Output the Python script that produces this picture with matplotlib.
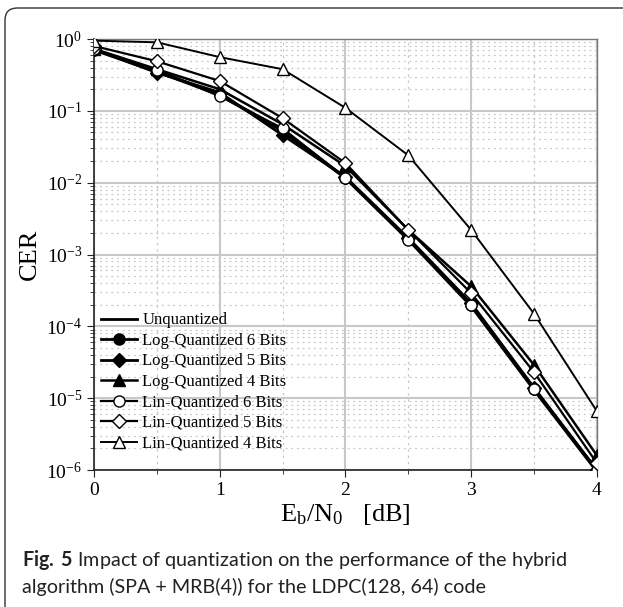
import matplotlib
matplotlib.use('Agg')
import matplotlib.pyplot as plt
from matplotlib.patches import FancyBboxPatch
from matplotlib.ticker import LogLocator, MultipleLocator

plt.rcParams['font.family'] = 'Liberation Serif'
plt.rcParams['mathtext.fontset'] = 'custom'
plt.rcParams['mathtext.rm'] = 'Liberation Serif'
plt.rcParams['mathtext.it'] = 'Liberation Serif:italic'
plt.rcParams['mathtext.bf'] = 'Lato:bold'  # only used for the "Fig. 5" tag

# Eb/N0 in dB
ebn0 = [0, 0.5, 1, 1.5, 2, 2.5, 3, 3.5, 4]

# codeword error rates
unquantized = [0.70, 0.35, 0.165, 0.052, 0.0115, 1.6e-3, 1.9e-4, 1.3e-5, 9.5e-7]
log_6 = [0.71, 0.36, 0.168, 0.054, 0.0118, 1.65e-3, 2.0e-4, 1.35e-5, 1.0e-6]
log_5 = [0.72, 0.34, 0.18, 0.046, 0.012, 1.7e-3, 2.1e-4, 1.4e-5, 1.0e-6]
log_4 = [0.73, 0.38, 0.20, 0.065, 0.017, 2.2e-3, 3.6e-4, 2.9e-5, 1.6e-6]
lin_6 = [0.72, 0.37, 0.16, 0.057, 0.0116, 1.6e-3, 2.0e-4, 1.35e-5, 1.0e-6]
lin_5 = [0.80, 0.49, 0.26, 0.079, 0.0187, 2.2e-3, 2.9e-4, 2.3e-5, 1.25e-6]
lin_4 = [0.95, 0.90, 0.56, 0.38, 0.11, 0.024, 2.2e-3, 1.5e-4, 6.6e-6]

labels = ['Unquantized', 'Log-Quantized 6 Bits', 'Log-Quantized 5 Bits',
          'Log-Quantized 4 Bits', 'Lin-Quantized 6 Bits', 'Lin-Quantized 5 Bits',
          'Lin-Quantized 4 Bits']

fig = plt.figure(figsize=(6.23, 6.07), dpi=100)

# rounded frame around the figure + caption
frame = FancyBboxPatch((5 / 623, -0.05), 1.2, 1.05 - 8 / 607,
                       boxstyle='round,pad=0,rounding_size=0.02',
                       transform=fig.transFigure, fill=False,
                       edgecolor='#333333', lw=1.0)
fig.patches.append(frame)

ax = fig.add_axes([0.151, 0.2257, 0.807, 0.71])

series = [unquantized, log_6, log_5, log_4, lin_6, lin_5, lin_4]
styles = [
    dict(marker=None, mfc='k', lw=2.0),
    dict(marker='o', mfc='k', lw=2.0),
    dict(marker='D', mfc='k', lw=2.0),
    dict(marker='^', mfc='k', lw=1.8),
    dict(marker='o', mfc='white', lw=1.6),
    dict(marker='D', mfc='white', lw=1.6),
    dict(marker='^', mfc='white', lw=1.4),
]
for ys, st, lab in zip(series, styles, labels):
    ms = 7 if st['marker'] == 'D' else 8
    ax.plot(ebn0, ys, color='k', lw=st['lw'], marker=st['marker'], ms=ms,
            mfc=st['mfc'], mec='k', mew=1.0, label=lab, zorder=3)

ax.set_yscale('log')
ax.set_xlim(0, 4)
ax.set_ylim(1e-6, 1)
ax.xaxis.set_major_locator(MultipleLocator(1))
ax.xaxis.set_minor_locator(MultipleLocator(0.5))
ax.yaxis.set_major_locator(LogLocator(base=10, numticks=10))
ax.yaxis.set_minor_locator(LogLocator(base=10, subs=range(2, 10), numticks=20))

ax.grid(which='major', color='#c8c8c8', lw=1.5, ls='-')
ax.grid(which='minor', axis='y', color='#c8c8c8', lw=0.9, ls=(0, (1.5, 3)))
ax.grid(which='minor', axis='x', color='#c8c8c8', lw=0.9, ls=(0, (2, 3)))
ax.set_axisbelow(True)

for side in ['left', 'bottom']:
    ax.spines[side].set_color('#222222')
    ax.spines[side].set_linewidth(1.2)
for side in ['top', 'right']:
    ax.spines[side].set_color('#777777')
    ax.spines[side].set_linewidth(1.0)

ax.tick_params(which='major', direction='out', length=5, labelsize=14, color='#222222')
ax.tick_params(which='minor', direction='out', length=3, color='#222222')

ax.set_ylabel('CER', fontsize=19, labelpad=4)
ax.set_xlabel(r'$\mathregular{E_b/N_0}$   [dB]', fontsize=19, labelpad=2)

ax.legend(loc='lower left', bbox_to_anchor=(0.0, 12 / 431), frameon=False,
          fontsize=12, handlelength=2.2, borderaxespad=0.1, labelspacing=0.27,
          handletextpad=0.3, borderpad=0.3)

cap_kw = dict(fontsize=14.2, family='Lato', va='center', color='#222222')
fig.text(22 / 623, 1 - 560 / 607,
         r'$\mathbf{Fig.\ 5}$ Impact of quantization on the performance of the hybrid',
         **cap_kw)
fig.text(22 / 623, 1 - 587 / 607,
         'algorithm (SPA + MRB(4)) for the LDPC(128, 64) code', **cap_kw)

fig.savefig('out.png', dpi=100)
